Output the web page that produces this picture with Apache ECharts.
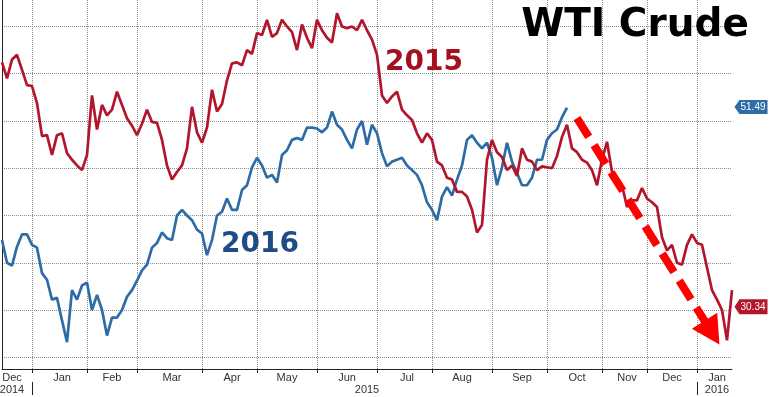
<!DOCTYPE html>
<html>
<head>
<meta charset="utf-8">
<script src="https://cdn.jsdelivr.net/npm/echarts@6/dist/echarts.min.js"></script>
<style>
  html, body { margin: 0; padding: 0; background: #fff; }
  #chart { width: 772px; height: 397px; }
</style>
</head>
<body>
<div id="chart"></div>
<script>
// month bands on the x axis (points per month, roughly trading days / 2)
const monthNames = ['Dec', 'Jan', 'Feb', 'Mar', 'Apr', 'May', 'Jun', 'Jul', 'Aug', 'Sep', 'Oct', 'Nov', 'Dec', 'Jan']
const monthCounts = [6, 11, 10, 13, 11, 12, 12, 11, 12, 11, 11, 9, 10, 8]
const yearLabels = ['2014', '2015', '2016']

// WTI price path, 2015 (red)
const wti2015 = [
  56.2, 54.5, 56.5, 57.0, 55.4, 53.8, 53.7, 51.9, 48.4, 48.5,
  46.4, 48.5, 48.7, 46.6, 45.9, 45.3, 44.8, 46.4, 52.7, 49.1,
  51.7, 50.6, 51.2, 53.1, 51.7, 50.3, 49.5, 48.5, 49.7, 51.2,
  49.9, 49.8, 48.0, 45.3, 43.8, 44.6, 45.3, 47.1, 51.5, 48.8,
  47.7, 49.3, 53.3, 51.0, 51.8, 54.3, 56.1, 56.2, 55.9, 57.5,
  57.1, 59.3, 59.1, 60.7, 58.9, 59.3, 60.7, 60.0, 59.4, 57.5,
  60.2, 58.8, 57.7, 60.7, 59.6, 58.8, 58.3, 61.4, 60.0, 59.8,
  60.0, 59.6, 60.7, 59.6, 58.6, 57.0, 52.7, 51.9, 52.6, 53.1,
  51.2, 50.6, 50.1, 48.7, 47.7, 48.7, 48.0, 45.7, 45.3, 44.0,
  43.8, 42.5, 42.5, 42.0, 40.6, 38.2, 39.0, 45.9, 48.0, 46.7,
  46.2, 44.8, 45.3, 44.2, 47.1, 45.9, 45.7, 44.8, 45.2, 45.1,
  45.0, 46.3, 48.3, 49.6, 47.1, 46.7, 45.9, 45.6, 44.8, 43.2,
  45.9, 47.8, 44.6, 43.9, 43.2, 40.9, 41.6, 41.6, 42.9, 41.8,
  41.4, 40.9, 37.7, 36.3, 36.9, 35.0, 34.8, 36.9, 38.0, 37.1,
  36.9, 34.5, 32.1, 31.1, 30.0, 26.8, 32.1
]

// WTI price path, 2016 (blue), overlaid on the 2015 calendar
const wti2016 = [
  37.4, 35.0, 34.7, 36.7, 38.0, 38.0, 36.9, 36.6, 33.9, 33.2,
  31.1, 31.3, 28.9, 26.6, 32.1, 31.1, 32.6, 32.9, 30.0, 31.6,
  30.0, 27.3, 29.2, 29.2, 30.0, 31.4, 32.1, 33.1, 34.2, 34.8,
  36.6, 37.1, 38.2, 37.6, 37.4, 40.0, 40.6, 40.0, 39.5, 38.5,
  38.1, 35.8, 37.4, 40.0, 40.4, 41.8, 40.6, 40.6, 42.7, 43.2,
  45.1, 46.1, 45.3, 44.0, 44.3, 43.5, 46.4, 46.9, 48.0, 48.2,
  48.0, 49.3, 49.3, 49.2, 48.8, 49.3, 51.0, 49.6, 49.1, 48.0,
  47.1, 49.1, 50.0, 47.5, 49.6, 48.7, 46.6, 45.2, 45.7, 45.9,
  46.1, 45.3, 44.8, 44.3, 43.2, 41.4, 40.6, 39.5, 42.0, 43.0,
  42.1, 43.8, 45.3, 48.0, 48.5, 47.7, 47.1, 47.7, 46.1, 43.2,
  45.1, 47.7, 45.7, 44.5, 43.2, 43.2, 44.0, 45.9, 45.9, 48.0,
  48.7, 49.1, 50.4, 51.4
]

const lastRed = 30.34
const lastBlue = 51.49

// build categories and month/year index helpers
const categories = []
const monthStarts = []
const monthLabelAt = {}
let pos = 0
monthCounts.forEach((n, m) => {
  monthStarts.push(pos)
  const yr = m === 0 ? '2014' : (m === monthCounts.length - 1 ? '2016' : '2015')
  for (let k = 0; k < n; k++) categories.push(monthNames[m] + ' ' + yr + ' #' + k)
  const li = m === 0 ? pos + 2 : pos + Math.round(n / 2)
  monthLabelAt[li] = monthNames[m]
  pos += n
})
const lastIdx = categories.length - 1
const yearStarts = [monthStarts[1], monthStarts[monthStarts.length - 1]]
const yearLabelAt = {}
yearLabelAt[2] = yearLabels[0]
yearLabelAt[Math.round((yearStarts[0] + yearStarts[1]) / 2)] = yearLabels[1]
yearLabelAt[Math.round((yearStarts[1] + lastIdx) / 2)] = yearLabels[2]

const isMonthStart = (i) => i > 0 && monthStarts.indexOf(i) >= 0

const RED = '#b3162c'
const BLUE = '#2e6ca5'
const tagPath = 'path://M0,6 L6,0 L40,0 L40,12 L6,12 Z'

const chart = echarts.init(document.getElementById('chart'))
const option = {
  animation: false,
  backgroundColor: '#fff',
  textStyle: { fontFamily: 'Liberation Sans' },
  grid: { left: 2, right: 40, top: 0, bottom: 28, containLabel: false, outerBoundsMode: 'none' },
  xAxis: [
    {
      type: 'category',
      data: categories,
      boundaryGap: false,
      axisLine: { show: true, lineStyle: { color: '#222', width: 1 } },
      axisTick: { show: true, interval: (i) => isMonthStart(i), length: 4, lineStyle: { color: '#222' } },
      axisLabel: {
        interval: (i) => monthLabelAt[i] !== undefined,
        formatter: (v, i) => monthLabelAt[i] || '',
        color: '#333',
        fontSize: 11,
        margin: 3
      },
      splitLine: {
        show: true,
        interval: (i) => isMonthStart(i),
        lineStyle: { color: '#8c8c8c', type: 'dotted', width: 1 }
      }
    },
    {
      type: 'category',
      data: categories,
      boundaryGap: false,
      position: 'bottom',
      offset: 13,
      axisLine: { show: false },
      axisTick: { show: true, interval: (i) => yearStarts.indexOf(i) >= 0, length: 13, lineStyle: { color: '#222' } },
      axisLabel: {
        interval: (i) => yearLabelAt[i] !== undefined,
        formatter: (v, i) => yearLabelAt[i] || '',
        color: '#333',
        fontSize: 11,
        margin: 2
      },
      splitLine: { show: false }
    }
  ],
  yAxis: {
    type: 'value',
    min: 23.76,
    max: 62.8,
    splitNumber: 8,
    axisLine: { show: true, lineStyle: { color: '#222' } },
    axisTick: { show: false },
    axisLabel: { show: false },
    splitLine: { show: true, showMaxLine: false, lineStyle: { color: '#8c8c8c', type: 'dotted', width: 1 } }
  },
  series: [
    {
      name: '2016',
      type: 'line',
      data: wti2016,
      showSymbol: false,
      smooth: false,
      lineStyle: { color: BLUE, width: 2.7 },
      itemStyle: { color: BLUE },
      z: 2,
      markPoint: {
        silent: true,
        symbol: tagPath,
        symbolSize: [33, 14],
        symbolOffset: [19, 0],
        symbolKeepAspect: false,
        itemStyle: { color: BLUE },
        label: { show: true, position: 'inside', color: '#fff', fontSize: 10, offset: [2, 0], formatter: lastBlue.toFixed(2) },
        data: [{ coord: [lastIdx, lastBlue] }]
      }
    },
    {
      name: '2015',
      type: 'line',
      data: wti2015,
      showSymbol: false,
      smooth: false,
      lineStyle: { color: RED, width: 2.7 },
      itemStyle: { color: RED },
      z: 3,
      markPoint: {
        silent: true,
        symbol: tagPath,
        symbolSize: [33, 15],
        symbolOffset: [19, 0],
        symbolKeepAspect: false,
        itemStyle: { color: RED },
        label: { show: true, position: 'inside', color: '#fff', fontSize: 10, offset: [2, 0], formatter: lastRed.toFixed(2) },
        data: [{ coord: [lastIdx, lastRed] }]
      },
      markLine: {
        silent: true,
        symbol: ['none', 'triangle'],
        symbolSize: [30, 28],
        label: { show: false },
        lineStyle: { color: '#ff0000', width: 8, type: [22, 10], cap: 'butt' },
        data: [[{ coord: [115, 50.3] }, { coord: [141.6, 27.6] }]]
      }
    }
  ],
  graphic: [
    {
      type: 'text', z: 10,
      style: { x: 635, y: 26, text: 'WTI Crude', fill: '#000', font: 'bold 39px "DejaVu Sans"', textAlign: 'center', textVerticalAlign: 'middle' }
    },
    {
      type: 'text', z: 10,
      style: { x: 424, y: 63, text: '2015', fill: '#a3101f', font: 'bold 28px "DejaVu Sans"', textAlign: 'center', textVerticalAlign: 'middle' }
    },
    {
      type: 'text', z: 10,
      style: { x: 260, y: 245, text: '2016', fill: '#1f4b87', font: 'bold 28px "DejaVu Sans"', textAlign: 'center', textVerticalAlign: 'middle' }
    }
  ]
}
chart.setOption(option)
</script>
</body>
</html>
